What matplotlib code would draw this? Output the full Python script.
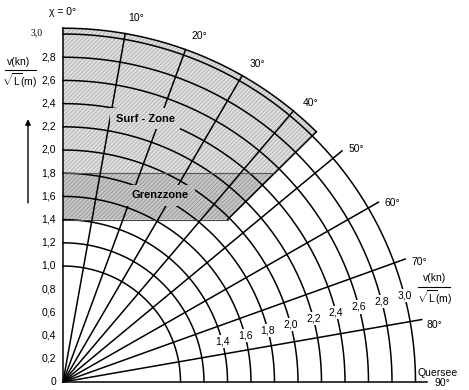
import numpy as np
import matplotlib.pyplot as plt

plt.rcParams['font.family'] = ['Liberation Sans', 'DejaVu Sans']
plt.rcParams['mathtext.fontset'] = 'custom'
plt.rcParams['mathtext.rm'] = 'Liberation Sans'
plt.rcParams['mathtext.sf'] = 'Liberation Sans'
plt.rcParams['hatch.linewidth'] = 0.4

# ===========================================================
# chart values
kurs_winkel = [0, 10, 20, 30, 40, 50, 60, 70, 80, 90]          # degrees
speed_arcs = [1.0, 1.2, 1.4, 1.6, 1.8, 2.0, 2.2, 2.4, 2.6, 2.8, 3.0]
y_ticks = [0.0, 0.2, 0.4, 0.6, 0.8, 1.0, 1.2, 1.4, 1.6, 1.8, 2.0,
           2.2, 2.4, 2.6, 2.8, 3.0]
y_labels = ['0', '0,2', '0,4', '0,6', '0,8', '1,0', '1,2', '1,4', '1,6',
            '1,8', '2,0', '2,2', '2,4', '2,6', '2,8', '3,0']
arc_values = [1.4, 1.6, 1.8, 2.0, 2.2, 2.4, 2.6, 2.8, 3.0]
arc_labels = ['1,4', '1,6', '1,8', '2,0', '2,2', '2,4', '2,6', '2,8', '3,0']

# zones
grenz_lo = 1.4
surf_lo = 1.8
zone_angle = 45.0
zone_outer = 3.05
radial_outer = 3.1

surf_fc, surf_hc = '#dedede', '#9c9c9c'
grenz_fc, grenz_hc = '#c6c6c6', '#808080'


def pol(r, deg):
    a = np.radians(deg)
    return r * np.sin(a), r * np.cos(a)


fig = plt.figure(figsize=(4.69, 3.90), dpi=100)
ax = fig.add_axes([0, 0, 1, 1])
ax.set_xlim(-63 / 117.5, 406 / 117.5)
ax.set_ylim(-8 / 116, 382 / 116)
ax.axis('off')

# --- shaded zones
t = np.linspace(zone_angle, 0, 100)
ax_, ay_ = pol(zone_outer, t)
sx = np.concatenate([[0, surf_lo], ax_, [0]])
sy = np.concatenate([[surf_lo, surf_lo], ay_, [surf_lo]])
ax.fill(sx, sy, fc=surf_fc, ec=surf_hc, lw=0, hatch='////////', zorder=1)
gx = [0, grenz_lo, surf_lo, 0]
gy = [grenz_lo, grenz_lo, surf_lo, surf_lo]
ax.fill(gx, gy, fc=grenz_fc, ec=grenz_hc, lw=0, hatch='////////', zorder=1)

# zone outlines
ax.plot(ax_, ay_, color='k', lw=1.1, zorder=4)
bx, by = pol(np.array([grenz_lo * np.sqrt(2), zone_outer]), zone_angle)
ax.plot(bx, by, color='k', lw=1.1, zorder=4)
ax.plot([0, grenz_lo], [grenz_lo, grenz_lo], color='#444444', lw=0.8, zorder=4)
ax.plot([0, surf_lo], [surf_lo, surf_lo], color='#555555', lw=0.8, zorder=4)

# --- arcs of constant speed
tt = np.linspace(0, 90, 300)
for r in speed_arcs:
    x, y = pol(r, tt)
    ax.plot(x, y, color='k', lw=1.1, zorder=2)

# --- radial course lines
for a in kurs_winkel:
    rmax = zone_outer if a <= zone_angle else radial_outer
    x, y = pol(rmax, a)
    ax.plot([0, x], [0, y], color='k', lw=1.1, zorder=4)
    if 0 < a < 90:
        lx, ly = pol(3.2, a + 1.2)
        ax.text(lx, ly, '%d°' % a, ha='center', va='center', fontsize=7.5)

# --- y axis labels
for v, lab in zip(y_ticks, y_labels):
    if lab == '3,0':
        ax.text(-0.17, v + 0.01, lab, ha='right', va='center', fontsize=7,
                family='Liberation Serif')
    else:
        ax.text(-0.06, v, lab, ha='right', va='center', fontsize=7.5)

# --- labels on the arcs near the bottom
for v, lab in zip(arc_values, arc_labels):
    lx, ly = pol(v, 75.6)
    ax.text(lx, ly, lab, ha='center', va='center', fontsize=7.5, zorder=3,
            bbox=dict(boxstyle='square,pad=0.15', fc='white', ec='none'))

# --- zone names
ax.text(0.70, 2.27, 'Surf - Zone', ha='center', va='center', fontsize=8,
        fontweight='bold', zorder=5,
        bbox=dict(boxstyle='square,pad=0.5', fc=surf_fc, ec=surf_hc,
                  lw=0, hatch='////////'))
ax.text(0.83, 1.61, 'Grenzzone', ha='center', va='center', fontsize=8,
        fontweight='bold', zorder=5,
        bbox=dict(boxstyle='square,pad=0.5', fc=grenz_fc, ec=grenz_hc,
                  lw=0, hatch='////////'))

# --- axis titles
ax.text(0, 3.19, 'χ = 0°', ha='center', va='center', fontsize=7.5)
ax.text(-0.38, 2.76, 'v(kn)', ha='center', va='center', fontsize=7.5)
ax.plot([-0.49, -0.23], [2.69, 2.69], color='k', lw=0.8)
ax.text(-0.37, 2.60, r'$\sqrt{\mathrm{L}}$(m)', ha='center', va='center', fontsize=7.5)
ax.annotate('', xy=(-0.298, 2.29), xytext=(-0.298, 1.52),
            arrowprops=dict(arrowstyle='-|>', color='k', lw=1.0,
                            mutation_scale=8))

ax.text(3.16, 0.90, 'v(kn)', ha='center', va='center', fontsize=7.5)
ax.plot([3.02, 3.29], [0.82, 0.82], color='k', lw=0.8)
ax.text(3.16, 0.73, r'$\sqrt{\mathrm{L}}$(m)', ha='center', va='center', fontsize=7.5)

ax.text(3.19, 0.078, 'Quersee', ha='center', va='center', fontsize=7.5)
ax.text(3.23, -0.01, '90°', ha='center', va='center', fontsize=7.5)

fig.savefig('out.png', dpi=100)
